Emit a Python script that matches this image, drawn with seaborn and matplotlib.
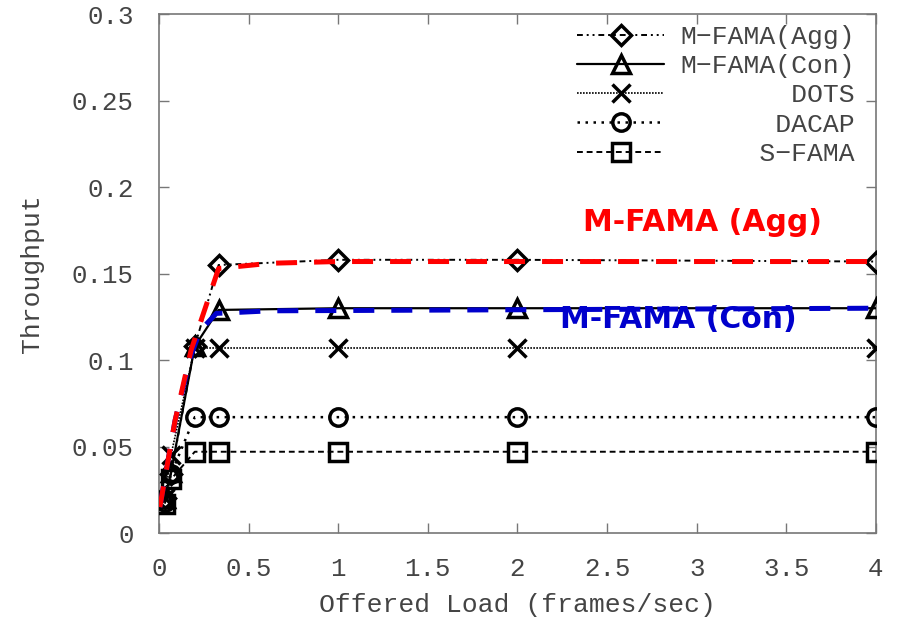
import numpy as np
import pandas as pd
import matplotlib
matplotlib.use("Agg")
import matplotlib.pyplot as plt
import seaborn as sns

# Offered load points (frames/sec)
load = [0.033, 0.067, 0.2, 0.333, 1, 2, 4]

# Throughput per protocol
agg = [0.020, 0.034, 0.108, 0.155, 0.158, 0.158, 0.157]
con = [0.020, 0.035, 0.108, 0.129, 0.130, 0.130, 0.130]
dots = [0.020, 0.045, 0.107, 0.107, 0.107, 0.107, 0.107]
dacap = [0.018, 0.034, 0.067, 0.067, 0.067, 0.067, 0.067]
sfama = [0.017, 0.031, 0.047, 0.047, 0.047, 0.047, 0.047]

series_names = ["M\u2212FAMA(Agg)", "M\u2212FAMA(Con)", "DOTS", "DACAP", "S\u2212FAMA"]

# Highlight trend curves drawn over the two M-FAMA variants
agg_trend_x = [0.005, 0.09, 0.18, 0.333, 0.62, 1, 4]
agg_trend_y = [0.015, 0.065, 0.106, 0.153, 0.156, 0.157, 0.157]
con_trend_x = [0.005, 0.09, 0.18, 0.23, 0.32, 0.62, 4]
con_trend_y = [0.015, 0.065, 0.103, 0.117, 0.127, 0.1285, 0.130]

x_ticks = [0, 0.5, 1, 1.5, 2, 2.5, 3, 3.5, 4]
x_tick_labels = ["0", "0.5", "1", "1.5", "2", "2.5", "3", "3.5", "4"]
y_ticks = [0, 0.05, 0.1, 0.15, 0.2, 0.25, 0.3]
y_tick_labels = ["0", "0.05", "0.1", "0.15", "0.2", "0.25", "0.3"]

sns.set_theme(style="ticks")
plt.rcParams["font.family"] = ["Liberation Mono", "DejaVu Sans Mono"]

fig = plt.figure(figsize=(9.03, 6.2), dpi=100)
ax = fig.add_axes([0.176, 0.1403, 0.970 - 0.176, 0.977 - 0.1403])

styles = [
    dict(marker="D", markersize=10.5, linestyle=(0, (3, 2, 1, 2, 1, 2)), lw=1.4),
    dict(marker="^", markersize=13, linestyle="-", lw=1.6),
    dict(marker="x", markersize=13.5, linestyle=(0, (1, 0.8)), lw=1.2),
    dict(marker="o", markersize=12.5, linestyle=(0, (1, 2.2)), lw=1.8),
    dict(marker="s", markersize=12.5, linestyle=(0, (3, 2)), lw=1.4),
]
values = [agg, con, dots, dacap, sfama]

width = max(len(n) for n in series_names)
for name, vals, st in zip(series_names, values, styles):
    df = pd.DataFrame({"load": load, "throughput": vals})
    sns.lineplot(data=df, x="load", y="throughput", ax=ax, color="black",
                 errorbar=None, marker=st["marker"], markersize=st["markersize"],
                 markerfacecolor="none", markeredgecolor="black",
                 markeredgewidth=2.5, linestyle=st["linestyle"],
                 linewidth=st["lw"], label=name.rjust(width), zorder=3)

# Trend curves
sns.lineplot(x=con_trend_x, y=con_trend_y, ax=ax, color="#0000cc",
             linewidth=3.6, linestyle=(0, (4.2, 3.4)), errorbar=None,
             sort=False, zorder=4, legend=False)
sns.lineplot(x=agg_trend_x, y=agg_trend_y, ax=ax, color="#ff0000",
             linewidth=3.6, linestyle=(0, (4.2, 3.4)), errorbar=None,
             sort=False, zorder=5, legend=False)

ax.text(2.365, 0.1798, "M-FAMA (Agg)", color="#ff0000", fontsize=21.5,
        fontweight="bold", family="DejaVu Sans", ha="left", va="center")
ax.text(2.24, 0.1237, "M-FAMA (Con)", color="#0000cc", fontsize=21.5,
        fontweight="bold", family="DejaVu Sans", ha="left", va="center")

ax.set_xlim(0, 4)
ax.set_ylim(0, 0.3)
ax.set_xticks(x_ticks)
ax.set_xticklabels(x_tick_labels)
ax.set_yticks(y_ticks)
ax.set_yticklabels(y_tick_labels)
ax.tick_params(axis="both", direction="in", length=7, width=1, color="#777777",
               labelsize=18.5, labelcolor="#444444", top=True, right=True)
ax.tick_params(axis="x", pad=17)
ax.tick_params(axis="y", pad=18)
for sp in ax.spines.values():
    sp.set_color("#777777")
    sp.set_linewidth(1.2)

ax.set_xlabel("Offered Load (frames/sec)", fontsize=19, color="#444444", labelpad=9)
ax.set_ylabel("Throughput", fontsize=19, color="#444444", labelpad=20)

leg = ax.legend(loc="upper right", bbox_to_anchor=(0.985, 1.0), frameon=False,
                fontsize=19, handlelength=3.3, handletextpad=0.6,
                labelspacing=0.2, borderaxespad=0.0)
for t in leg.get_texts():
    t.set_color("#444444")

fig.savefig("out.png", dpi=100)
